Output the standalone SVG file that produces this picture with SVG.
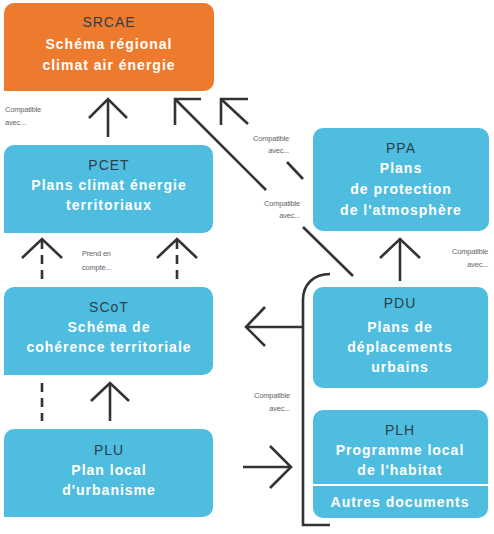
<svg xmlns="http://www.w3.org/2000/svg" width="494" height="534" viewBox="0 0 494 534">
<style>
.box{fill:#4fbde0}
.org{fill:#ee7a2e}
.t{font-family:"Liberation Sans",Arial,sans-serif;font-size:14px;text-anchor:middle;letter-spacing:1px}
.h{fill:#2e3e48}
.w{fill:#ffffff;font-weight:bold}
.lbl{font-family:"Liberation Sans",Arial,sans-serif;font-size:7.5px;fill:#666666;letter-spacing:-0.2px}
.ln{fill:none;stroke:#333333;stroke-width:2.6;stroke-linecap:butt;stroke-linejoin:miter}
.dash{stroke-dasharray:9 6}
</style>
<rect width="494" height="534" fill="#ffffff"/>
<g id="SRCAE">
<path class="org" d="M14,3 H204 A10,10 0 0 1 214,13 V81 A10,10 0 0 1 204,91 H4 V13 A10,10 0 0 1 14,3 Z"/>
<text class="t h" x="109" y="27">SRCAE</text>
<text class="t w" x="109" y="49">Schéma régional</text>
<text class="t w" x="109" y="70">climat air énergie</text>
</g>
<g id="PCET">
<path class="box" d="M14,145 H203 A10,10 0 0 1 213,155 V223 A10,10 0 0 1 203,233 H4 V155 A10,10 0 0 1 14,145 Z"/>
<text class="t h" x="109" y="170">PCET</text>
<text class="t w" x="109" y="190">Plans climat énergie</text>
<text class="t w" x="109" y="210">territoriaux</text>
</g>
<g id="SCoT">
<path class="box" d="M14,287 H203 A10,10 0 0 1 213,297 V365 A10,10 0 0 1 203,375 H4 V297 A10,10 0 0 1 14,287 Z"/>
<text class="t h" x="109" y="312">SCoT</text>
<text class="t w" x="109" y="332">Schéma de</text>
<text class="t w" x="109" y="352">cohérence territoriale</text>
</g>
<g id="PLU">
<path class="box" d="M14,429 H203 A10,10 0 0 1 213,439 V507 A10,10 0 0 1 203,517 H4 V439 A10,10 0 0 1 14,429 Z"/>
<text class="t h" x="109" y="455">PLU</text>
<text class="t w" x="109" y="475">Plan local</text>
<text class="t w" x="109" y="495">d'urbanisme</text>
</g>
<g id="PPA">
<rect class="box" x="313" y="128" width="176" height="103" rx="10"/>
<text class="t h" x="401" y="153">PPA</text>
<text class="t w" x="401" y="173">Plans</text>
<text class="t w" x="401" y="194">de protection</text>
<text class="t w" x="401" y="215">de l'atmosphère</text>
</g>
<g id="PDU">
<rect class="box" x="313" y="287" width="175" height="101" rx="10"/>
<text class="t h" x="400" y="308">PDU</text>
<text class="t w" x="400" y="332">Plans de</text>
<text class="t w" x="400" y="352">déplacements</text>
<text class="t w" x="400" y="372">urbains</text>
</g>
<g id="PLH">
<rect class="box" x="313" y="410" width="175" height="108" rx="10"/>
<line x1="313" y1="485" x2="488" y2="485" stroke="#ffffff" stroke-width="2"/>
<text class="t h" x="400" y="435">PLH</text>
<text class="t w" x="400" y="455">Programme local</text>
<text class="t w" x="400" y="475">de l'habitat</text>
<text class="t w" x="400" y="507">Autres documents</text>
</g>
<g id="connectors">
<!-- PCET -> SRCAE -->
<line class="ln" x1="108" y1="137" x2="108" y2="99"/>
<polyline class="ln" points="89,118 108,99 127,118"/>
<!-- bracket -> SRCAE diagonal -->
<polyline class="ln" points="201,99 175,99 175,125"/>
<line class="ln" x1="175" y1="99" x2="266" y2="190"/>
<line class="ln" x1="303" y1="227" x2="353" y2="276"/>
<!-- PPA -> SRCAE diagonal -->
<polyline class="ln" points="248,99 221,99 221,125"/>
<line class="ln" x1="221" y1="99" x2="248" y2="124"/>
<line class="ln" x1="287" y1="162" x2="303" y2="179"/>
<!-- SCoT -> PCET dashed -->
<line class="ln dash" x1="42" y1="240" x2="42" y2="281"/>
<polyline class="ln" points="22,258 42,239 62,258"/>
<line class="ln dash" x1="177" y1="240" x2="177" y2="281"/>
<polyline class="ln" points="157,258 177,239 197,258"/>
<!-- PLU -> SCoT -->
<line class="ln" x1="110" y1="383" x2="110" y2="421"/>
<polyline class="ln" points="91,401 110,383 129,401"/>
<line class="ln dash" x1="42" y1="383" x2="42" y2="421"/>
<!-- PDU -> PPA -->
<line class="ln" x1="400" y1="239" x2="400" y2="281"/>
<polyline class="ln" points="380,258 400,239 420,258"/>
<!-- bracket -->
<path class="ln" d="M330,274 C314,274 303,284 303,300 V525 H330"/>
<!-- bracket -> SCoT -->
<line class="ln" x1="246" y1="327" x2="303" y2="327"/>
<polyline class="ln" points="265,307 246,327 265,346"/>
<!-- PLU -> bracket -->
<line class="ln" x1="243" y1="467" x2="291" y2="467"/>
<polyline class="ln" points="270,446 291,467 270,488"/>
</g>
<g id="labels">
<text class="lbl" x="5" y="112">Compatible</text>
<text class="lbl" x="5" y="125">avec...</text>
<text class="lbl" x="289" y="141" text-anchor="end">Compatible</text>
<text class="lbl" x="289" y="153" text-anchor="end">avec...</text>
<text class="lbl" x="300" y="206" text-anchor="end">Compatible</text>
<text class="lbl" x="300" y="218" text-anchor="end">avec...</text>
<text class="lbl" x="488" y="254" text-anchor="end">Compatible</text>
<text class="lbl" x="488" y="267" text-anchor="end">avec...</text>
<text class="lbl" x="82" y="256">Prend en</text>
<text class="lbl" x="82" y="270">compte...</text>
<text class="lbl" x="290" y="398" text-anchor="end">Compatible</text>
<text class="lbl" x="290" y="411" text-anchor="end">avec...</text>
</g>
</svg>
